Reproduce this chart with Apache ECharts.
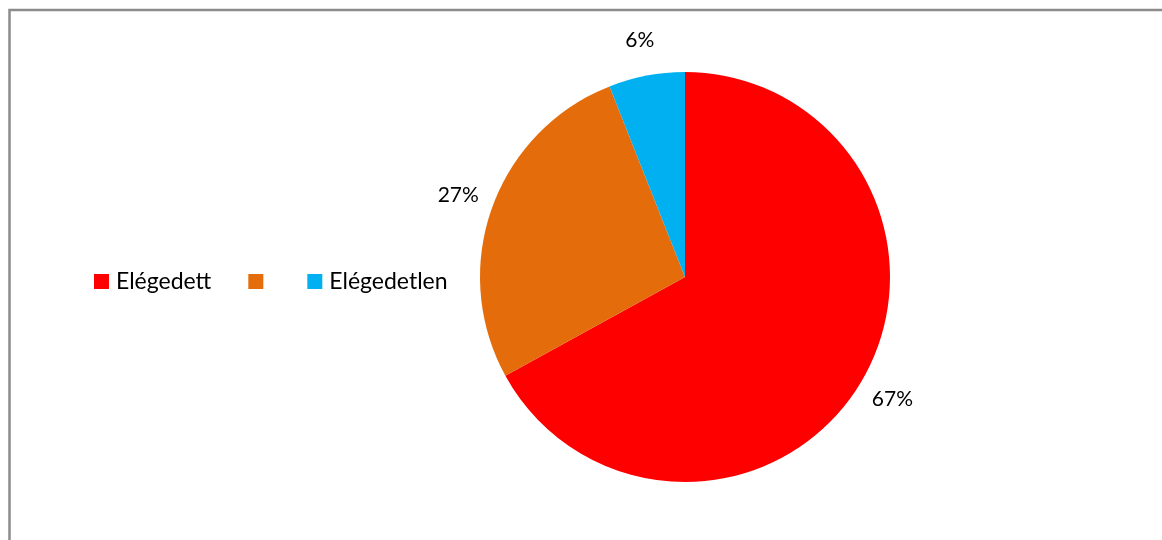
<!DOCTYPE html>
<html><head><meta charset="utf-8">
<script src="https://cdn.jsdelivr.net/npm/echarts@6/dist/echarts.min.js"></script>
<style>html,body{margin:0;padding:0;background:#fff}#c{width:1162px;height:540px}</style>
</head><body><div id="c"></div>
<script>
const categories = ['Elégedett', '\u200b', 'Elégedetlen'];
const values = [67, 27, 6];
const colors = ['#FF0000', '#E46C0A', '#00B0F0'];

const chart = echarts.init(document.getElementById('c'));
const font = 'Lato, "Open Sans", sans-serif';
const pieData = categories.map((n, i) => ({ name: n, value: values[i], itemStyle: { color: colors[i] } }));
chart.setOption({
  animation: false,
  backgroundColor: '#fff',
  graphic: [{
    type: 'rect', silent: true,
    shape: { x: 9.5, y: 10, width: 1250, height: 600 },
    style: { fill: 'none', stroke: '#8c8c8c', lineWidth: 2.5 }
  }],
  legend: {
    data: categories,
    left: 89, top: 265,
    orient: 'horizontal',
    itemWidth: 15, itemHeight: 15, itemGap: 37,
    icon: 'rect',
    textStyle: { fontFamily: font, fontSize: 23, lineHeight: 23, color: '#000', padding: [0, 0, 0, 2] }
  },
  series: [{
    type: 'pie',
    center: [685, 277],
    radius: [0, 205],
    startAngle: 90,
    clockwise: true,
    label: { show: false },
    labelLine: { show: false },
    emphasis: { disabled: true },
    data: pieData
  }, {
    type: 'pie',
    center: [685, 277],
    radius: [233, 243],
    startAngle: 90,
    clockwise: true,
    silent: true,
    itemStyle: { color: 'rgba(0,0,0,0)' },
    label: {
      show: true, position: 'inside',
      formatter: p => p.value + '%',
      fontFamily: font, fontSize: 21, color: '#000'
    },
    labelLine: { show: false },
    emphasis: { disabled: true },
    data: categories.map((n, i) => ({ name: n, value: values[i], itemStyle: { color: 'rgba(0,0,0,0)' } }))
  }]
});
</script></body></html>
